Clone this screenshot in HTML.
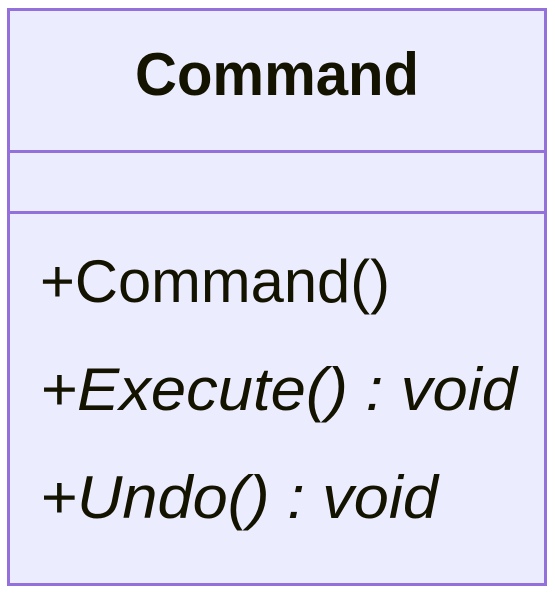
<!DOCTYPE html>
<html><head><meta charset="utf-8"><style>
html,body{margin:0;padding:0;background:#fff;}
svg{display:block;}
text{font-family:"Liberation Sans",sans-serif;fill:#131300;font-size:60px;}
</style></head><body>
<svg width="555" height="594" viewBox="0 0 555 594" xmlns="http://www.w3.org/2000/svg">
<rect x="8.5" y="9.5" width="537" height="575" fill="#ECECFF" stroke="#9370DB" stroke-width="3"/>
<line x1="8.5" y1="151.5" x2="545.5" y2="151.5" stroke="#9370DB" stroke-width="3"/>
<line x1="8.5" y1="212.5" x2="545.5" y2="212.5" stroke="#9370DB" stroke-width="3"/>
<text x="135" y="95" font-weight="bold" textLength="284" lengthAdjust="spacingAndGlyphs">Command</text>
<text x="40" y="302" textLength="350" lengthAdjust="spacingAndGlyphs">+Command()</text>
<text x="40" y="410" font-style="italic" textLength="477" lengthAdjust="spacingAndGlyphs">+Execute() : void</text>
<text x="40" y="518" font-style="italic" textLength="398" lengthAdjust="spacingAndGlyphs">+Undo() : void</text>
</svg>
</body></html>
